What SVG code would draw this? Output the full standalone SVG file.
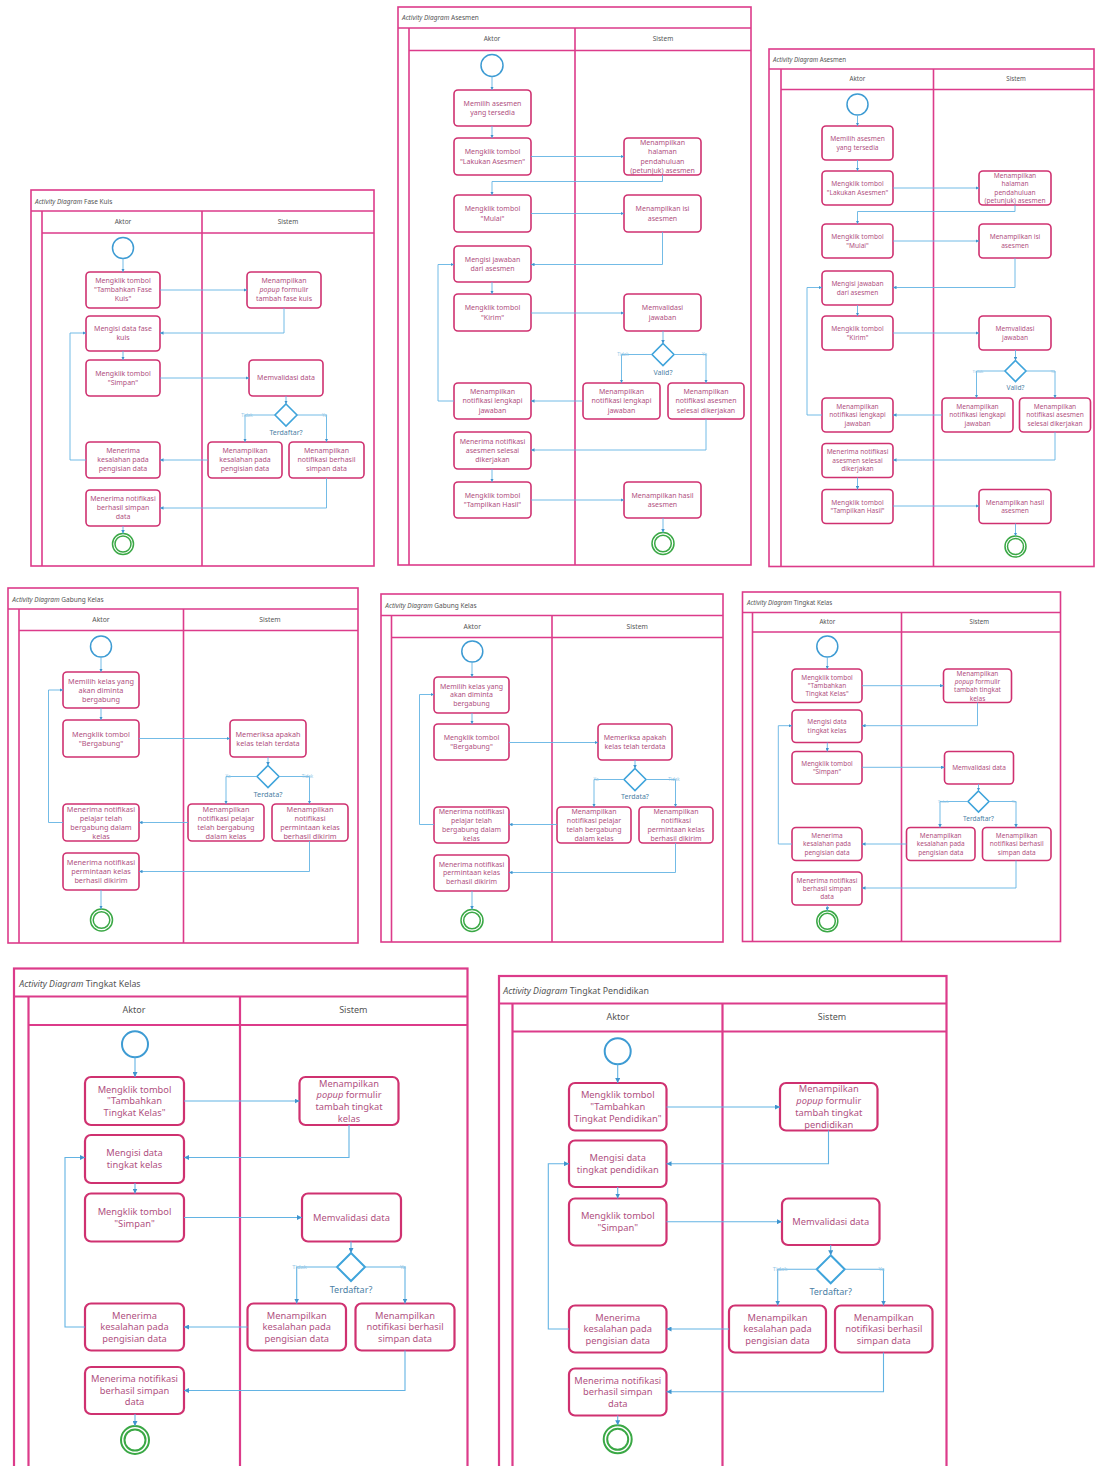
<svg xmlns="http://www.w3.org/2000/svg" width="1096" height="1466" viewBox="0 0 1096 1466">
<style>
text{font-family:"Noto Sans","DejaVu Sans",sans-serif}
.frame{fill:#fff;stroke:#dc3b8a;stroke-width:1.6}
.lane{fill:none;stroke:#dc3b8a;stroke-width:1.6}
.ttl,.hdr{fill:#555}
.hdr{text-anchor:middle}
.act rect{fill:#fff;stroke:#cf3170;stroke-width:1.6}
.act text{fill:#b0517f;text-anchor:middle}
.start circle{fill:#fff;stroke:#3d9bd3;stroke-width:1.5}
.end circle{fill:none;stroke:#3aa845;stroke-width:1.5}
.dec polygon{fill:#fff;stroke:#3fa4db;stroke-width:1.6}
.dec text{fill:#4c7fa5;text-anchor:middle}
.flow path{fill:none;stroke:#63b3e3;stroke-width:0.9;marker-end:url(#ah)}
.flow text{fill:#94c7e6;text-anchor:middle}
.big .frame,.big .lane{stroke-width:2.2}
.big .act rect{stroke-width:2.2}
.big .start circle,.big .end circle,.big .dec polygon{stroke-width:2}
.big .flow path{stroke-width:1.1;marker-end:url(#ahL)}
</style>
<defs>
<marker id="ah" viewBox="0 0 6 6" refX="6" refY="3" markerWidth="3.5" markerHeight="3.5" markerUnits="userSpaceOnUse" orient="auto"><path d="M0,0L6,3L0,6z" fill="#3f95cf"/></marker>
<marker id="ahL" viewBox="0 0 6 6" refX="6" refY="3" markerWidth="5" markerHeight="5" markerUnits="userSpaceOnUse" orient="auto"><path d="M0,0L6,3L0,6z" fill="#3f95cf"/></marker>
</defs>
<rect width="1096" height="1466" fill="#fff"/>

<!-- ===== Fase Kuis ===== -->
<g id="fase-kuis" font-size="7">
<rect class="frame" x="31" y="190" width="343" height="376"/>
<path class="lane" d="M31,211H374M42,211V566M42,233H374M202,211V566"/>
<text class="ttl" x="35" y="203.5" font-size="6.5"><tspan font-style="italic">Activity Diagram</tspan> Fase Kuis</text>
<text class="hdr" x="123" y="223.5" font-size="6.5">Aktor</text>
<text class="hdr" x="288" y="223.5" font-size="6.5">Sistem</text>
<g id="fk-start" class="start"><circle cx="123" cy="248" r="10.5"/></g>
<g id="fk-n1" class="act"><rect x="86" y="272" width="74" height="36" rx="4"/><text x="123" y="290"><tspan x="123" dy="-6.55">Mengklik tombol</tspan><tspan x="123" dy="9">"Tambahkan Fase</tspan><tspan x="123" dy="9">Kuis"</tspan></text></g>
<g id="fk-n2" class="act"><rect x="247" y="272" width="74" height="36" rx="4"/><text x="284" y="290"><tspan x="284" dy="-6.55">Menampilkan</tspan><tspan x="284" dy="9"><tspan font-style="italic">popup</tspan> formulir</tspan><tspan x="284" dy="9">tambah fase kuis</tspan></text></g>
<g id="fk-n3" class="act"><rect x="86" y="316" width="74" height="35" rx="4"/><text x="123" y="333.5"><tspan x="123" dy="-2.05">Mengisi data fase</tspan><tspan x="123" dy="9">kuis</tspan></text></g>
<g id="fk-n4" class="act"><rect x="86" y="360" width="74" height="36" rx="4"/><text x="123" y="378"><tspan x="123" dy="-2.05">Mengklik tombol</tspan><tspan x="123" dy="9">"Simpan"</tspan></text></g>
<g id="fk-n5" class="act"><rect x="249" y="360" width="74" height="36" rx="4"/><text x="286" y="380.45">Memvalidasi data</text></g>
<g id="fk-dec" class="dec"><polygon points="286,404 297,415 286,426 275,415"/><text x="286" y="434.8">Terdaftar?</text></g>
<g id="fk-n6" class="act"><rect x="86" y="442" width="74" height="36" rx="4"/><text x="123" y="460"><tspan x="123" dy="-6.55">Menerima</tspan><tspan x="123" dy="9">kesalahan pada</tspan><tspan x="123" dy="9">pengisian data</tspan></text></g>
<g id="fk-n7" class="act"><rect x="208" y="442" width="74" height="36" rx="4"/><text x="245" y="460"><tspan x="245" dy="-6.55">Menampilkan</tspan><tspan x="245" dy="9">kesalahan pada</tspan><tspan x="245" dy="9">pengisian data</tspan></text></g>
<g id="fk-n8" class="act"><rect x="289" y="442" width="75" height="36" rx="4"/><text x="326.5" y="460"><tspan x="326.5" dy="-6.55">Menampilkan</tspan><tspan x="326.5" dy="9">notifikasi berhasil</tspan><tspan x="326.5" dy="9">simpan data</tspan></text></g>
<g id="fk-n9" class="act"><rect x="86" y="490" width="74" height="36" rx="4"/><text x="123" y="508"><tspan x="123" dy="-6.55">Menerima notifikasi</tspan><tspan x="123" dy="9">berhasil simpan</tspan><tspan x="123" dy="9">data</tspan></text></g>
<g id="fk-end" class="end"><circle cx="123" cy="544" r="10.5"/><circle cx="123" cy="544" r="8"/></g>
<g id="fk-flows" class="flow">
<path d="M123,258.5V272"/><path d="M160,290H247"/><path d="M284,308V333H160"/><path d="M123,351V360"/>
<path d="M160,378H249"/><path d="M286,396V404"/><path d="M275,415H245V442"/><path d="M297,415H326.5V442"/>
<path d="M208,460H160"/><path d="M86,460H70V333H86"/><path d="M326.5,478V508H160"/><path d="M123,526V533.5"/>
<text x="247" y="416.5" font-size="4.5">Tidak</text><text x="324.5" y="416.5" font-size="4.5">Ya</text>
</g>
</g>

<!-- ===== Asesmen (tengah) ===== -->
<g id="asesmen-1" font-size="7">
<rect class="frame" x="398" y="7" width="353" height="558"/>
<path class="lane" d="M398,28H751M409,28V565M409,50.5H751M575,28V565"/>
<text class="ttl" x="402" y="20.3" font-size="6.5"><tspan font-style="italic">Activity Diagram</tspan> Asesmen</text>
<text class="hdr" x="492" y="41" font-size="6.5">Aktor</text>
<text class="hdr" x="663" y="41" font-size="6.5">Sistem</text>
<g id="as1-start" class="start"><circle cx="492" cy="65.5" r="11"/></g>
<g id="as1-n1" class="act"><rect x="454" y="90" width="77" height="36" rx="4"/><text x="492.5" y="108"><tspan x="492.5" dy="-2.1">Memilih asesmen</tspan><tspan x="492.5" dy="9.1">yang tersedia</tspan></text></g>
<g id="as1-n2" class="act"><rect x="454" y="138" width="77" height="37" rx="4"/><text x="492.5" y="156.5"><tspan x="492.5" dy="-2.1">Mengklik tombol</tspan><tspan x="492.5" dy="9.1">"Lakukan Asesmen"</tspan></text></g>
<g id="as1-n3" class="act"><rect x="624" y="138" width="77" height="37" rx="4"/><text x="662.5" y="156.5"><tspan x="662.5" dy="-11.2">Menampilkan</tspan><tspan x="662.5" dy="9.1">halaman</tspan><tspan x="662.5" dy="9.1">pendahuluan</tspan><tspan x="662.5" dy="9.1">(petunjuk) asesmen</tspan></text></g>
<g id="as1-n4" class="act"><rect x="454" y="195" width="77" height="37" rx="4"/><text x="492.5" y="213.5"><tspan x="492.5" dy="-2.1">Mengklik tombol</tspan><tspan x="492.5" dy="9.1">"Mulai"</tspan></text></g>
<g id="as1-n5" class="act"><rect x="624" y="195" width="77" height="37" rx="4"/><text x="662.5" y="213.5"><tspan x="662.5" dy="-2.1">Menampilkan isi</tspan><tspan x="662.5" dy="9.1">asesmen</tspan></text></g>
<g id="as1-n6" class="act"><rect x="454" y="246" width="77" height="36" rx="4"/><text x="492.5" y="264"><tspan x="492.5" dy="-2.1">Mengisi jawaban</tspan><tspan x="492.5" dy="9.1">dari asesmen</tspan></text></g>
<g id="as1-n7" class="act"><rect x="454" y="294" width="77" height="37" rx="4"/><text x="492.5" y="312.5"><tspan x="492.5" dy="-2.1">Mengklik tombol</tspan><tspan x="492.5" dy="9.1">"Kirim"</tspan></text></g>
<g id="as1-n8" class="act"><rect x="624" y="294" width="77" height="37" rx="4"/><text x="662.5" y="312.5"><tspan x="662.5" dy="-2.1">Memvalidasi</tspan><tspan x="662.5" dy="9.1">jawaban</tspan></text></g>
<g id="as1-dec" class="dec"><polygon points="663,343.5 674,354.5 663,365.5 652,354.5"/><text x="663" y="374.8">Valid?</text></g>
<g id="as1-n9" class="act"><rect x="454" y="383" width="77" height="36" rx="4"/><text x="492.5" y="401"><tspan x="492.5" dy="-6.65">Menampilkan</tspan><tspan x="492.5" dy="9.1">notifikasi lengkapi</tspan><tspan x="492.5" dy="9.1">jawaban</tspan></text></g>
<g id="as1-n10" class="act"><rect x="583" y="383" width="77" height="36" rx="4"/><text x="621.5" y="401"><tspan x="621.5" dy="-6.65">Menampilkan</tspan><tspan x="621.5" dy="9.1">notifikasi lengkapi</tspan><tspan x="621.5" dy="9.1">jawaban</tspan></text></g>
<g id="as1-n11" class="act"><rect x="668" y="383" width="76" height="36" rx="4"/><text x="706" y="401"><tspan x="706" dy="-6.65">Menampilkan</tspan><tspan x="706" dy="9.1">notifikasi asesmen</tspan><tspan x="706" dy="9.1">selesai dikerjakan</tspan></text></g>
<g id="as1-n12" class="act"><rect x="454" y="432" width="77" height="37" rx="4"/><text x="492.5" y="450.5"><tspan x="492.5" dy="-6.65">Menerima notifikasi</tspan><tspan x="492.5" dy="9.1">asesmen selesai</tspan><tspan x="492.5" dy="9.1">dikerjakan</tspan></text></g>
<g id="as1-n13" class="act"><rect x="454" y="482" width="77" height="36" rx="4"/><text x="492.5" y="500"><tspan x="492.5" dy="-2.1">Mengklik tombol</tspan><tspan x="492.5" dy="9.1">"Tampilkan Hasil"</tspan></text></g>
<g id="as1-n14" class="act"><rect x="624" y="482" width="77" height="36" rx="4"/><text x="662.5" y="500"><tspan x="662.5" dy="-2.1">Menampilkan hasil</tspan><tspan x="662.5" dy="9.1">asesmen</tspan></text></g>
<g id="as1-end" class="end"><circle cx="663" cy="543.5" r="11"/><circle cx="663" cy="543.5" r="8.3"/></g>
<g id="as1-flows" class="flow">
<path d="M492,76.5V90"/><path d="M492,126V138"/><path d="M531,156.5H624"/><path d="M662.5,175V181.5H492V195"/>
<path d="M531,213.5H624"/><path d="M662.5,232V264.5H531"/><path d="M492,282V294"/><path d="M531,313H624"/>
<path d="M663,331V343.5"/><path d="M652,354.5H621.5V383"/><path d="M674,354.5H706V383"/><path d="M583,401H531"/>
<path d="M454,401H438V264.5H454"/><path d="M706,419V450H531"/><path d="M492,469V482"/><path d="M531,500H624"/><path d="M663,518V532.5"/>
<text x="623" y="356" font-size="4.5">Tidak</text><text x="704.5" y="356" font-size="4.5">Ya</text>
</g>
</g>

<!-- ===== Asesmen (kanan) ===== -->
<g id="asesmen-2" font-size="6.6">
<rect class="frame" x="769" y="49" width="325" height="517.5"/>
<path class="lane" d="M769,69H1094M781,69V566.5M781,89.5H1094M933.5,69V566.5"/>
<text class="ttl" x="773" y="61.5" font-size="6.2"><tspan font-style="italic">Activity Diagram</tspan> Asesmen</text>
<text class="hdr" x="857.5" y="81.2" font-size="6.2">Aktor</text>
<text class="hdr" x="1016" y="81.2" font-size="6.2">Sistem</text>
<g id="as2-start" class="start"><circle cx="857.5" cy="104.5" r="10.5"/></g>
<g id="as2-n1" class="act"><rect x="822" y="126" width="71" height="34" rx="4"/><text x="857.5" y="143"><tspan x="857.5" dy="-1.95">Memilih asesmen</tspan><tspan x="857.5" dy="8.5">yang tersedia</tspan></text></g>
<g id="as2-n2" class="act"><rect x="822" y="171" width="71" height="34" rx="4"/><text x="857.5" y="188"><tspan x="857.5" dy="-1.95">Mengklik tombol</tspan><tspan x="857.5" dy="8.5">"Lakukan Asesmen"</tspan></text></g>
<g id="as2-n3" class="act"><rect x="979" y="171" width="72" height="34" rx="4"/><text x="1015" y="188"><tspan x="1015" dy="-10.45">Menampilkan</tspan><tspan x="1015" dy="8.5">halaman</tspan><tspan x="1015" dy="8.5">pendahuluan</tspan><tspan x="1015" dy="8.5">(petunjuk) asesmen</tspan></text></g>
<g id="as2-n4" class="act"><rect x="822" y="224" width="71" height="34" rx="4"/><text x="857.5" y="241"><tspan x="857.5" dy="-1.95">Mengklik tombol</tspan><tspan x="857.5" dy="8.5">"Mulai"</tspan></text></g>
<g id="as2-n5" class="act"><rect x="979" y="224" width="72" height="34" rx="4"/><text x="1015" y="241"><tspan x="1015" dy="-1.95">Menampilkan isi</tspan><tspan x="1015" dy="8.5">asesmen</tspan></text></g>
<g id="as2-n6" class="act"><rect x="822" y="271" width="71" height="34" rx="4"/><text x="857.5" y="288"><tspan x="857.5" dy="-1.95">Mengisi jawaban</tspan><tspan x="857.5" dy="8.5">dari asesmen</tspan></text></g>
<g id="as2-n7" class="act"><rect x="822" y="316" width="71" height="34" rx="4"/><text x="857.5" y="333"><tspan x="857.5" dy="-1.95">Mengklik tombol</tspan><tspan x="857.5" dy="8.5">"Kirim"</tspan></text></g>
<g id="as2-n8" class="act"><rect x="979" y="316" width="72" height="34" rx="4"/><text x="1015" y="333"><tspan x="1015" dy="-1.95">Memvalidasi</tspan><tspan x="1015" dy="8.5">jawaban</tspan></text></g>
<g id="as2-dec" class="dec"><polygon points="1015.5,360.5 1026,371 1015.5,381.5 1005,371"/><text x="1015.5" y="390.3">Valid?</text></g>
<g id="as2-n9" class="act"><rect x="822" y="398" width="71" height="34" rx="4"/><text x="857.5" y="415"><tspan x="857.5" dy="-6.2">Menampilkan</tspan><tspan x="857.5" dy="8.5">notifikasi lengkapi</tspan><tspan x="857.5" dy="8.5">jawaban</tspan></text></g>
<g id="as2-n10" class="act"><rect x="942" y="398" width="71" height="34" rx="4"/><text x="977.5" y="415"><tspan x="977.5" dy="-6.2">Menampilkan</tspan><tspan x="977.5" dy="8.5">notifikasi lengkapi</tspan><tspan x="977.5" dy="8.5">jawaban</tspan></text></g>
<g id="as2-n11" class="act"><rect x="1019.5" y="398" width="71" height="34" rx="4"/><text x="1055" y="415"><tspan x="1055" dy="-6.2">Menampilkan</tspan><tspan x="1055" dy="8.5">notifikasi asesmen</tspan><tspan x="1055" dy="8.5">selesai dikerjakan</tspan></text></g>
<g id="as2-n12" class="act"><rect x="822" y="443.5" width="71" height="34" rx="4"/><text x="857.5" y="460.5"><tspan x="857.5" dy="-6.2">Menerima notifikasi</tspan><tspan x="857.5" dy="8.5">asesmen selesai</tspan><tspan x="857.5" dy="8.5">dikerjakan</tspan></text></g>
<g id="as2-n13" class="act"><rect x="822" y="489.5" width="71" height="34" rx="4"/><text x="857.5" y="506.5"><tspan x="857.5" dy="-1.95">Mengklik tombol</tspan><tspan x="857.5" dy="8.5">"Tampilkan Hasil"</tspan></text></g>
<g id="as2-n14" class="act"><rect x="979" y="489.5" width="72" height="34" rx="4"/><text x="1015" y="506.5"><tspan x="1015" dy="-1.95">Menampilkan hasil</tspan><tspan x="1015" dy="8.5">asesmen</tspan></text></g>
<g id="as2-end" class="end"><circle cx="1015.5" cy="546.5" r="10.5"/><circle cx="1015.5" cy="546.5" r="8"/></g>
<g id="as2-flows" class="flow">
<path d="M857.5,115.5V126"/><path d="M857.5,160V171"/><path d="M893,188H979"/><path d="M1015,205V211.5H857.5V224"/>
<path d="M893,241H979"/><path d="M1015,258V287.5H893"/><path d="M857.5,305V316"/><path d="M893,333H979"/>
<path d="M1015.5,350V360.5"/><path d="M1005,371H976.5V398"/><path d="M1026,371H1055V398"/><path d="M942,415H893"/>
<path d="M822,415H807V287.5H822"/><path d="M1055,432V460H893"/><path d="M857.5,477.5V489.5"/><path d="M893,506H979"/><path d="M1015.5,523.5V536"/>
<text x="978" y="372.5" font-size="4.3">Tidak</text><text x="1053" y="372.5" font-size="4.3">Ya</text>
</g>
</g>

<!-- ===== Gabung Kelas (kiri) ===== -->
<g id="gabung-kelas-1" font-size="7.3">
<rect class="frame" x="8" y="588" width="350" height="355"/>
<path class="lane" d="M8,609H358M19,609V943M19,630.5H358M183.5,609V943"/>
<text class="ttl" x="12.3" y="601.5" font-size="6.5"><tspan font-style="italic">Activity Diagram</tspan> Gabung Kelas</text>
<text class="hdr" x="101" y="621.8" font-size="6.8">Aktor</text>
<text class="hdr" x="270" y="621.8" font-size="6.8">Sistem</text>
<g id="gk1-start" class="start"><circle cx="101" cy="646.5" r="10.5"/></g>
<g id="gk1-n1" class="act"><rect x="63" y="672" width="76" height="36" rx="4"/><text x="101" y="690"><tspan x="101" dy="-6.45">Memilih kelas yang</tspan><tspan x="101" dy="9">akan diminta</tspan><tspan x="101" dy="9">bergabung</tspan></text></g>
<g id="gk1-n2" class="act"><rect x="63" y="720" width="76" height="37" rx="4"/><text x="101" y="738.5"><tspan x="101" dy="-1.95">Mengklik tombol</tspan><tspan x="101" dy="9">"Bergabung"</tspan></text></g>
<g id="gk1-n3" class="act"><rect x="230" y="720" width="76" height="37" rx="4"/><text x="268" y="738.5"><tspan x="268" dy="-1.95">Memeriksa apakah</tspan><tspan x="268" dy="9">kelas telah terdata</tspan></text></g>
<g id="gk1-dec" class="dec"><polygon points="268,765.5 279,776.5 268,787.5 257,776.5"/><text x="268" y="796.8">Terdata?</text></g>
<g id="gk1-n4" class="act"><rect x="63" y="804" width="76" height="37" rx="4"/><text x="101" y="822.5"><tspan x="101" dy="-10.95">Menerima notifikasi</tspan><tspan x="101" dy="9">pelajar telah</tspan><tspan x="101" dy="9">bergabung dalam</tspan><tspan x="101" dy="9">kelas</tspan></text></g>
<g id="gk1-n5" class="act"><rect x="188" y="804" width="76" height="37" rx="4"/><text x="226" y="822.5"><tspan x="226" dy="-10.95">Menampilkan</tspan><tspan x="226" dy="9">notifikasi pelajar</tspan><tspan x="226" dy="9">telah bergabung</tspan><tspan x="226" dy="9">dalam kelas</tspan></text></g>
<g id="gk1-n6" class="act"><rect x="272" y="804" width="76" height="37" rx="4"/><text x="310" y="822.5"><tspan x="310" dy="-10.95">Menampilkan</tspan><tspan x="310" dy="9">notifikasi</tspan><tspan x="310" dy="9">permintaan kelas</tspan><tspan x="310" dy="9">berhasil dikirim</tspan></text></g>
<g id="gk1-n7" class="act"><rect x="63" y="853" width="76" height="37" rx="4"/><text x="101" y="871.5"><tspan x="101" dy="-6.45">Menerima notifikasi</tspan><tspan x="101" dy="9">permintaan kelas</tspan><tspan x="101" dy="9">berhasil dikirim</tspan></text></g>
<g id="gk1-end" class="end"><circle cx="101.5" cy="920" r="11"/><circle cx="101.5" cy="920" r="8.3"/></g>
<g id="gk1-flows" class="flow">
<path d="M101,657V672"/><path d="M101,708V720"/><path d="M139,738.5H230"/><path d="M268,757V765.5"/>
<path d="M257,776.5H226V804"/><path d="M279,776.5H309.5V804"/><path d="M188,822.5H139"/><path d="M63,822.5H48.5V690H63"/>
<path d="M309.5,841V871.5H139"/><path d="M101,890V909"/>
<text x="228" y="778" font-size="4.5">Ya</text><text x="307.5" y="778" font-size="4.5">Tidak</text>
</g>
</g>

<!-- ===== Gabung Kelas (tengah) ===== -->
<g id="gabung-kelas-2" font-size="7">
<rect class="frame" x="381" y="594" width="342" height="348"/>
<path class="lane" d="M381,615.5H723M391.5,615.5V942M391.5,637.5H723M552,615.5V942"/>
<text class="ttl" x="385.3" y="608" font-size="6.5"><tspan font-style="italic">Activity Diagram</tspan> Gabung Kelas</text>
<text class="hdr" x="472.3" y="628.5" font-size="6.8">Aktor</text>
<text class="hdr" x="637.3" y="628.5" font-size="6.8">Sistem</text>
<g id="gk2-start" class="start"><circle cx="472.3" cy="651.5" r="10.5"/></g>
<g id="gk2-n1" class="act"><rect x="434" y="677" width="75" height="36" rx="4"/><text x="471.5" y="695"><tspan x="471.5" dy="-6.35">Memilih kelas yang</tspan><tspan x="471.5" dy="8.8">akan diminta</tspan><tspan x="471.5" dy="8.8">bergabung</tspan></text></g>
<g id="gk2-n2" class="act"><rect x="434" y="724" width="75" height="36" rx="4"/><text x="471.5" y="742"><tspan x="471.5" dy="-1.95">Mengklik tombol</tspan><tspan x="471.5" dy="8.8">"Bergabung"</tspan></text></g>
<g id="gk2-n3" class="act"><rect x="598" y="724" width="74" height="36" rx="4"/><text x="635" y="742"><tspan x="635" dy="-1.95">Memeriksa apakah</tspan><tspan x="635" dy="8.8">kelas telah terdata</tspan></text></g>
<g id="gk2-dec" class="dec"><polygon points="635,768.5 646,779.5 635,790.5 624,779.5"/><text x="635" y="798.8">Terdata?</text></g>
<g id="gk2-n4" class="act"><rect x="434" y="807" width="75" height="36" rx="4"/><text x="471.5" y="825"><tspan x="471.5" dy="-10.75">Menerima notifikasi</tspan><tspan x="471.5" dy="8.8">pelajar telah</tspan><tspan x="471.5" dy="8.8">bergabung dalam</tspan><tspan x="471.5" dy="8.8">kelas</tspan></text></g>
<g id="gk2-n5" class="act"><rect x="557" y="807" width="74" height="36" rx="4"/><text x="594" y="825"><tspan x="594" dy="-10.75">Menampilkan</tspan><tspan x="594" dy="8.8">notifikasi pelajar</tspan><tspan x="594" dy="8.8">telah bergabung</tspan><tspan x="594" dy="8.8">dalam kelas</tspan></text></g>
<g id="gk2-n6" class="act"><rect x="639" y="807" width="74" height="36" rx="4"/><text x="676" y="825"><tspan x="676" dy="-10.75">Menampilkan</tspan><tspan x="676" dy="8.8">notifikasi</tspan><tspan x="676" dy="8.8">permintaan kelas</tspan><tspan x="676" dy="8.8">berhasil dikirim</tspan></text></g>
<g id="gk2-n7" class="act"><rect x="434" y="855" width="75" height="36" rx="4"/><text x="471.5" y="873"><tspan x="471.5" dy="-6.35">Menerima notifikasi</tspan><tspan x="471.5" dy="8.8">permintaan kelas</tspan><tspan x="471.5" dy="8.8">berhasil dikirim</tspan></text></g>
<g id="gk2-end" class="end"><circle cx="472" cy="920.5" r="11"/><circle cx="472" cy="920.5" r="8.3"/></g>
<g id="gk2-flows" class="flow">
<path d="M472,662V677"/><path d="M472,713V724"/><path d="M509,742.5H598"/><path d="M635,760V768.5"/>
<path d="M624,779.5H594V807"/><path d="M646,779.5H675.5V807"/><path d="M557,824.5H509"/><path d="M434,824.5H419.5V694.5H434"/>
<path d="M675.5,843V872.5H509"/><path d="M472,891V909.5"/>
<text x="596" y="781" font-size="4.5">Ya</text><text x="674" y="781" font-size="4.5">Tidak</text>
</g>
</g>

<!-- ===== Tingkat Kelas (kecil) ===== -->
<g id="tingkat-kelas-1" font-size="6.5">
<rect class="frame" x="742.5" y="592" width="318" height="349.5"/>
<path class="lane" d="M742.5,612.5H1060.5M752.5,612.5V941.5M752.5,632H1060.5M901.5,612.5V941.5"/>
<text class="ttl" x="747" y="605.3" font-size="6.2"><tspan font-style="italic">Activity Diagram</tspan> Tingkat Kelas</text>
<text class="hdr" x="827.3" y="624" font-size="6.2">Aktor</text>
<text class="hdr" x="979.3" y="624" font-size="6.2">Sistem</text>
<g id="tk1-start" class="start"><circle cx="827.3" cy="646.5" r="10.5"/></g>
<g id="tk1-n1" class="act"><rect x="792" y="669" width="70" height="33.5" rx="4"/><text x="827" y="685.75"><tspan x="827" dy="-6">Mengklik tombol</tspan><tspan x="827" dy="8.3">"Tambahkan</tspan><tspan x="827" dy="8.3">Tingkat Kelas"</tspan></text></g>
<g id="tk1-n2" class="act"><rect x="943.5" y="669" width="68" height="33.5" rx="4"/><text x="977.5" y="685.75"><tspan x="977.5" dy="-10.15">Menampilkan</tspan><tspan x="977.5" dy="8.3"><tspan font-style="italic">popup</tspan> formulir</tspan><tspan x="977.5" dy="8.3">tambah tingkat</tspan><tspan x="977.5" dy="8.3">kelas</tspan></text></g>
<g id="tk1-n3" class="act"><rect x="792" y="710" width="70" height="32.5" rx="4"/><text x="827" y="726.25"><tspan x="827" dy="-1.85">Mengisi data</tspan><tspan x="827" dy="8.3">tingkat kelas</tspan></text></g>
<g id="tk1-n4" class="act"><rect x="792" y="751.5" width="70" height="32.5" rx="4"/><text x="827" y="767.75"><tspan x="827" dy="-1.85">Mengklik tombol</tspan><tspan x="827" dy="8.3">"Simpan"</tspan></text></g>
<g id="tk1-n5" class="act"><rect x="944.5" y="751.5" width="69" height="32.5" rx="4"/><text x="979" y="770.05">Memvalidasi data</text></g>
<g id="tk1-dec" class="dec"><polygon points="978.5,791 989,801.5 978.5,812 968,801.5"/><text x="978.5" y="820.5">Terdaftar?</text></g>
<g id="tk1-n6" class="act"><rect x="792" y="827.5" width="70" height="33" rx="4"/><text x="827" y="844"><tspan x="827" dy="-6">Menerima</tspan><tspan x="827" dy="8.3">kesalahan pada</tspan><tspan x="827" dy="8.3">pengisian data</tspan></text></g>
<g id="tk1-n7" class="act"><rect x="906.5" y="827.5" width="68.5" height="33" rx="4"/><text x="940.75" y="844"><tspan x="940.75" dy="-6">Menampilkan</tspan><tspan x="940.75" dy="8.3">kesalahan pada</tspan><tspan x="940.75" dy="8.3">pengisian data</tspan></text></g>
<g id="tk1-n8" class="act"><rect x="982.5" y="827.5" width="68.5" height="33" rx="4"/><text x="1016.75" y="844"><tspan x="1016.75" dy="-6">Menampilkan</tspan><tspan x="1016.75" dy="8.3">notifikasi berhasil</tspan><tspan x="1016.75" dy="8.3">simpan data</tspan></text></g>
<g id="tk1-n9" class="act"><rect x="792" y="872" width="70" height="33" rx="4"/><text x="827" y="888.5"><tspan x="827" dy="-6">Menerima notifikasi</tspan><tspan x="827" dy="8.3">berhasil simpan</tspan><tspan x="827" dy="8.3">data</tspan></text></g>
<g id="tk1-end" class="end"><circle cx="827.3" cy="921.3" r="10.5"/><circle cx="827.3" cy="921.3" r="8"/></g>
<g id="tk1-flows" class="flow">
<path d="M827.3,657V669"/><path d="M862,685.7H943.5"/><path d="M977.5,702.5V725.7H862"/><path d="M827.3,742.5V751.5"/>
<path d="M862,767.3H944.5"/><path d="M978.5,784V791"/><path d="M968,801.5H940V827.5"/><path d="M989,801.5H1016V827.5"/>
<path d="M906.5,844H862"/><path d="M792,844H778.3V725.7H792"/><path d="M1016,860.5V888H862"/><path d="M827.3,905V910.8"/>
<text x="943.3" y="803" font-size="4.3">Tidak</text><text x="1014" y="803" font-size="4.3">Ya</text>
</g>
</g>

<!-- ===== Tingkat Kelas (besar) ===== -->
<g id="tingkat-kelas-2" class="big" font-size="9.3">
<rect class="frame" x="14" y="968.5" width="453.5" height="510"/>
<path class="lane" d="M14,996.5H467.5M28.5,996.5V1480M28.5,1025H467.5M240,996.5V1480"/>
<text class="ttl" x="19.3" y="986.5" font-size="8.8"><tspan font-style="italic">Activity Diagram</tspan> Tingkat Kelas</text>
<text class="hdr" x="134" y="1013.2" font-size="9">Aktor</text>
<text class="hdr" x="353.3" y="1013.2" font-size="9">Sistem</text>
<g id="tk2-start" class="start"><circle cx="135" cy="1044.3" r="13"/></g>
<g id="tk2-n1" class="act"><rect x="85" y="1077" width="99" height="48" rx="6"/><text x="134.5" y="1101"><tspan x="134.5" dy="-8.45">Mengklik tombol</tspan><tspan x="134.5" dy="11.7">"Tambahkan</tspan><tspan x="134.5" dy="11.7">Tingkat Kelas"</tspan></text></g>
<g id="tk2-n2" class="act"><rect x="299.5" y="1077" width="99" height="48" rx="6"/><text x="349" y="1101"><tspan x="349" dy="-14.3">Menampilkan</tspan><tspan x="349" dy="11.7"><tspan font-style="italic">popup</tspan> formulir</tspan><tspan x="349" dy="11.7">tambah tingkat</tspan><tspan x="349" dy="11.7">kelas</tspan></text></g>
<g id="tk2-n3" class="act"><rect x="85" y="1135" width="99" height="48" rx="6"/><text x="134.5" y="1159"><tspan x="134.5" dy="-2.6">Mengisi data</tspan><tspan x="134.5" dy="11.7">tingkat kelas</tspan></text></g>
<g id="tk2-n4" class="act"><rect x="85" y="1193.5" width="99" height="48" rx="6"/><text x="134.5" y="1217.5"><tspan x="134.5" dy="-2.6">Mengklik tombol</tspan><tspan x="134.5" dy="11.7">"Simpan"</tspan></text></g>
<g id="tk2-n5" class="act"><rect x="302" y="1193.5" width="99" height="48" rx="6"/><text x="351.5" y="1220.75">Memvalidasi data</text></g>
<g id="tk2-dec" class="dec"><polygon points="351,1253 365,1267 351,1281 337,1267"/><text x="351" y="1293.2" font-size="9">Terdaftar?</text></g>
<g id="tk2-n6" class="act"><rect x="85" y="1303.5" width="99" height="47" rx="6"/><text x="134.5" y="1327"><tspan x="134.5" dy="-8.45">Menerima</tspan><tspan x="134.5" dy="11.7">kesalahan pada</tspan><tspan x="134.5" dy="11.7">pengisian data</tspan></text></g>
<g id="tk2-n7" class="act"><rect x="247.5" y="1303.5" width="98.5" height="47" rx="6"/><text x="296.75" y="1327"><tspan x="296.75" dy="-8.45">Menampilkan</tspan><tspan x="296.75" dy="11.7">kesalahan pada</tspan><tspan x="296.75" dy="11.7">pengisian data</tspan></text></g>
<g id="tk2-n8" class="act"><rect x="355.5" y="1303.5" width="99" height="47" rx="6"/><text x="405" y="1327"><tspan x="405" dy="-8.45">Menampilkan</tspan><tspan x="405" dy="11.7">notifikasi berhasil</tspan><tspan x="405" dy="11.7">simpan data</tspan></text></g>
<g id="tk2-n9" class="act"><rect x="85" y="1367" width="99" height="47" rx="6"/><text x="134.5" y="1390.5"><tspan x="134.5" dy="-8.45">Menerima notifikasi</tspan><tspan x="134.5" dy="11.7">berhasil simpan</tspan><tspan x="134.5" dy="11.7">data</tspan></text></g>
<g id="tk2-end" class="end"><circle cx="135" cy="1440" r="14"/><circle cx="135" cy="1440" r="10.5"/></g>
<g id="tk2-flows" class="flow">
<path d="M135,1057.5V1077"/><path d="M184,1101H299.5"/><path d="M349,1125V1157.5H184"/><path d="M135,1183V1193.5"/>
<path d="M184,1217.5H302"/><path d="M351,1241.5V1253"/><path d="M337,1267H296.7V1303.5"/><path d="M365,1267H405V1303.5"/>
<path d="M247.5,1327H184"/><path d="M85,1327H65V1157.5H85"/><path d="M405,1350.5V1390.5H184"/><path d="M135,1414V1426"/>
<text x="299.5" y="1269" font-size="5.8">Tidak</text><text x="403" y="1269" font-size="5.8">Ya</text>
</g>
</g>

<!-- ===== Tingkat Pendidikan ===== -->
<g id="tingkat-pendidikan" class="big" font-size="9.3">
<rect class="frame" x="499" y="976" width="447.5" height="510"/>
<path class="lane" d="M499,1003.5H946.5M512.5,1003.5V1480M512.5,1031.5H946.5M722.5,1003.5V1480"/>
<text class="ttl" x="503.3" y="993.5" font-size="8.8"><tspan font-style="italic">Activity Diagram</tspan> Tingkat Pendidikan</text>
<text class="hdr" x="618" y="1020.2" font-size="9">Aktor</text>
<text class="hdr" x="832" y="1020.2" font-size="9">Sistem</text>
<g id="tp-start" class="start"><circle cx="617.7" cy="1051.3" r="13"/></g>
<g id="tp-n1" class="act"><rect x="569" y="1083" width="97.5" height="47.5" rx="6"/><text x="617.75" y="1106.75"><tspan x="617.75" dy="-8.45">Mengklik tombol</tspan><tspan x="617.75" dy="11.7">"Tambahkan</tspan><tspan x="617.75" dy="11.7">Tingkat Pendidikan"</tspan></text></g>
<g id="tp-n2" class="act"><rect x="780" y="1083" width="97.5" height="47.5" rx="6"/><text x="828.75" y="1106.75"><tspan x="828.75" dy="-14.3">Menampilkan</tspan><tspan x="828.75" dy="11.7"><tspan font-style="italic">popup</tspan> formulir</tspan><tspan x="828.75" dy="11.7">tambah tingkat</tspan><tspan x="828.75" dy="11.7">pendidikan</tspan></text></g>
<g id="tp-n3" class="act"><rect x="569" y="1140.5" width="97.5" height="46.5" rx="6"/><text x="617.75" y="1163.75"><tspan x="617.75" dy="-2.6">Mengisi data</tspan><tspan x="617.75" dy="11.7">tingkat pendidikan</tspan></text></g>
<g id="tp-n4" class="act"><rect x="569" y="1198.5" width="97.5" height="47" rx="6"/><text x="617.75" y="1222"><tspan x="617.75" dy="-2.6">Mengklik tombol</tspan><tspan x="617.75" dy="11.7">"Simpan"</tspan></text></g>
<g id="tp-n5" class="act"><rect x="782" y="1198.5" width="97.5" height="46.5" rx="6"/><text x="830.75" y="1225">Memvalidasi data</text></g>
<g id="tp-dec" class="dec"><polygon points="830.7,1255.3 844.7,1269.3 830.7,1283.3 816.7,1269.3"/><text x="830.7" y="1295.3" font-size="9">Terdaftar?</text></g>
<g id="tp-n6" class="act"><rect x="569" y="1305.5" width="97.5" height="47" rx="6"/><text x="617.75" y="1329"><tspan x="617.75" dy="-8.45">Menerima</tspan><tspan x="617.75" dy="11.7">kesalahan pada</tspan><tspan x="617.75" dy="11.7">pengisian data</tspan></text></g>
<g id="tp-n7" class="act"><rect x="729" y="1305.5" width="97" height="47" rx="6"/><text x="777.5" y="1329"><tspan x="777.5" dy="-8.45">Menampilkan</tspan><tspan x="777.5" dy="11.7">kesalahan pada</tspan><tspan x="777.5" dy="11.7">pengisian data</tspan></text></g>
<g id="tp-n8" class="act"><rect x="835" y="1305.5" width="97.5" height="47" rx="6"/><text x="883.75" y="1329"><tspan x="883.75" dy="-8.45">Menampilkan</tspan><tspan x="883.75" dy="11.7">notifikasi berhasil</tspan><tspan x="883.75" dy="11.7">simpan data</tspan></text></g>
<g id="tp-n9" class="act"><rect x="569" y="1368.5" width="97.5" height="47" rx="6"/><text x="617.75" y="1392"><tspan x="617.75" dy="-8.45">Menerima notifikasi</tspan><tspan x="617.75" dy="11.7">berhasil simpan</tspan><tspan x="617.75" dy="11.7">data</tspan></text></g>
<g id="tp-end" class="end"><circle cx="617.7" cy="1439.3" r="14"/><circle cx="617.7" cy="1439.3" r="10.5"/></g>
<g id="tp-flows" class="flow">
<path d="M617.7,1064.5V1083"/><path d="M666.5,1107H780"/><path d="M828.5,1130.5V1163.7H666.5"/><path d="M617.7,1187V1198.5"/>
<path d="M666.5,1221.7H782"/><path d="M830.7,1245V1255.3"/><path d="M816.7,1269.3H777.7V1305.5"/><path d="M844.7,1269.3H883.5V1305.5"/>
<path d="M729,1329H666.5"/><path d="M569,1329H548.3V1163.7H569"/><path d="M883.5,1352.5V1391.7H666.5"/><path d="M617.7,1415.5V1425.3"/>
<text x="780" y="1271.3" font-size="5.8">Tidak</text><text x="881.5" y="1271.3" font-size="5.8">Ya</text>
</g>
</g>
</svg>
